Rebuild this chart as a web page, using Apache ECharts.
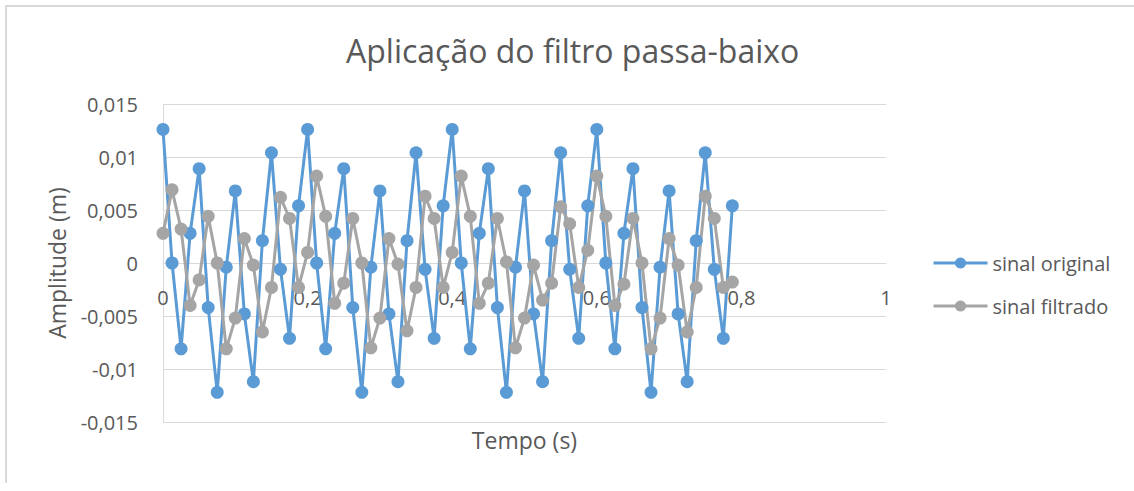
<!DOCTYPE html>
<html>
<head>
<meta charset="utf-8">
<script src="https://cdn.jsdelivr.net/npm/echarts@6/dist/echarts.min.js"></script>
<style>
  html, body { margin: 0; padding: 0; background: #fff; }
  #chart { position: absolute; left: 0; top: 0; width: 1134px; height: 491px; }
  #moldura { position: absolute; left: 5px; top: 5px; width: 1140px; height: 476px; border-top: 2px solid #d9d9d9; border-left: 2px solid #d9d9d9; pointer-events: none; }
</style>
</head>
<body>
<div id="chart"></div>
<div id="moldura"></div>
<script>
// tempo (s)
var tempo = [
  0, 0.0125, 0.025, 0.0375, 0.05, 0.0625, 0.075, 0.0875,
  0.1, 0.1125, 0.125, 0.1375, 0.15, 0.1625, 0.175, 0.1875,
  0.2, 0.2125, 0.225, 0.2375, 0.25, 0.2625, 0.275, 0.2875,
  0.3, 0.3125, 0.325, 0.3375, 0.35, 0.3625, 0.375, 0.3875,
  0.4, 0.4125, 0.425, 0.4375, 0.45, 0.4625, 0.475, 0.4875,
  0.5, 0.5125, 0.525, 0.5375, 0.55, 0.5625, 0.575, 0.5875,
  0.6, 0.6125, 0.625, 0.6375, 0.65, 0.6625, 0.675, 0.6875,
  0.7, 0.7125, 0.725, 0.7375, 0.75, 0.7625, 0.775, 0.7875
];
// sinal original (m)
var original = [
  0.0126, 0.0000, -0.0081, 0.0028, 0.0089, -0.0042, -0.0122, -0.0004,
  0.0068, -0.0048, -0.0112, 0.0021, 0.0104, -0.0006, -0.0071, 0.0054,
  0.0126, 0.0000, -0.0081, 0.0028, 0.0089, -0.0042, -0.0122, -0.0004,
  0.0068, -0.0048, -0.0112, 0.0021, 0.0104, -0.0006, -0.0071, 0.0054,
  0.0126, 0.0000, -0.0081, 0.0028, 0.0089, -0.0042, -0.0122, -0.0004,
  0.0068, -0.0048, -0.0112, 0.0021, 0.0104, -0.0006, -0.0071, 0.0054,
  0.0126, 0.0000, -0.0081, 0.0028, 0.0089, -0.0042, -0.0122, -0.0004,
  0.0068, -0.0048, -0.0112, 0.0021, 0.0104, -0.0006, -0.0071, 0.0054
];
// sinal filtrado (m)
var filtrado = [
  0.0028, 0.0069, 0.0032, -0.0040, -0.0016, 0.0044, 0.0000, -0.0081,
  -0.0052, 0.0023, -0.0002, -0.0065, -0.0023, 0.0062, 0.0042, -0.0023,
  0.0010, 0.0082, 0.0044, -0.0038, -0.0019, 0.0042, 0.0000, -0.0080,
  -0.0052, 0.0023, -0.0001, -0.0064, -0.0023, 0.0063, 0.0042, -0.0023,
  0.0010, 0.0082, 0.0044, -0.0038, -0.0019, 0.0042, 0.0001, -0.0080,
  -0.0052, -0.0002, -0.0035, -0.0019, 0.0053, 0.0037, -0.0023, 0.0012,
  0.0082, 0.0044, -0.0040, -0.0020, 0.0042, 0.0000, -0.0081, -0.0052,
  0.0023, -0.0002, -0.0065, -0.0023, 0.0063, 0.0042, -0.0023, -0.0018
];
var nomes = ['sinal original', 'sinal filtrado'];

var fonte = '"Open Sans", "Noto Sans", sans-serif';
var cinza = '#595959';

function virgula(v) {
  return String(v).replace('.', ',');
}
function pares(xs, ys) {
  var out = [];
  for (var i = 0; i < xs.length; i++) out.push([xs[i], ys[i]]);
  return out;
}

var chart = echarts.init(document.getElementById('chart'), null, { renderer: 'svg' });
chart.setOption({
  backgroundColor: '#ffffff',
  animation: false,
  textStyle: { fontFamily: fonte, color: cinza },
  title: {
    text: 'Aplicação do filtro passa-baixo',
    left: 341,
    top: 29,
    textStyle: { fontFamily: fonte, fontSize: 32, fontWeight: 'normal', color: cinza }
  },
  grid: { left: 163, right: 248, top: 104, bottom: 69, outerBoundsMode: 'none' },
  legend: {
    orient: 'vertical',
    left: 927,
    top: 248,
    itemWidth: 54,
    itemHeight: 14,
    itemGap: 23,
    lineStyle: { width: 3 },
    textStyle: { fontFamily: fonte, fontSize: 20, color: cinza },
    data: nomes
  },
  xAxis: {
    type: 'value',
    min: 0,
    max: 1,
    interval: 0.2,
    // eixo desenhado na linha do zero
    offset: -159,
    name: 'Tempo (s)',
    nameLocation: 'middle',
    nameGap: 165,
    nameTextStyle: { fontFamily: fonte, fontSize: 23, color: cinza },
    axisLine: { onZero: false, lineStyle: { color: '#d9d9d9', width: 1 } },
    axisTick: { show: false },
    splitLine: { show: false },
    axisLabel: { fontFamily: fonte, fontSize: 20, color: cinza, margin: 24, formatter: virgula }
  },
  yAxis: {
    type: 'value',
    min: -0.015,
    max: 0.015,
    interval: 0.005,
    name: 'Amplitude (m)',
    nameLocation: 'middle',
    nameRotate: 90,
    nameGap: 95,
    nameTextStyle: { fontFamily: fonte, fontSize: 23, color: cinza },
    axisLine: { show: true, lineStyle: { color: '#d9d9d9', width: 1 } },
    axisTick: { show: false },
    splitLine: { lineStyle: { color: '#d9d9d9', width: 1 } },
    axisLabel: { fontFamily: fonte, fontSize: 20, color: cinza, margin: 25, formatter: virgula }
  },
  series: [
    {
      name: nomes[0],
      type: 'line',
      data: pares(tempo, original),
      symbol: 'circle',
      symbolSize: 13,
      lineStyle: { color: '#5b9bd5', width: 3 },
      itemStyle: { color: '#5b9bd5' }
    },
    {
      name: nomes[1],
      type: 'line',
      data: pares(tempo, filtrado),
      symbol: 'circle',
      symbolSize: 13,
      lineStyle: { color: '#a5a5a5', width: 3 },
      itemStyle: { color: '#a5a5a5' }
    }
  ]
});
</script>
</body>
</html>
